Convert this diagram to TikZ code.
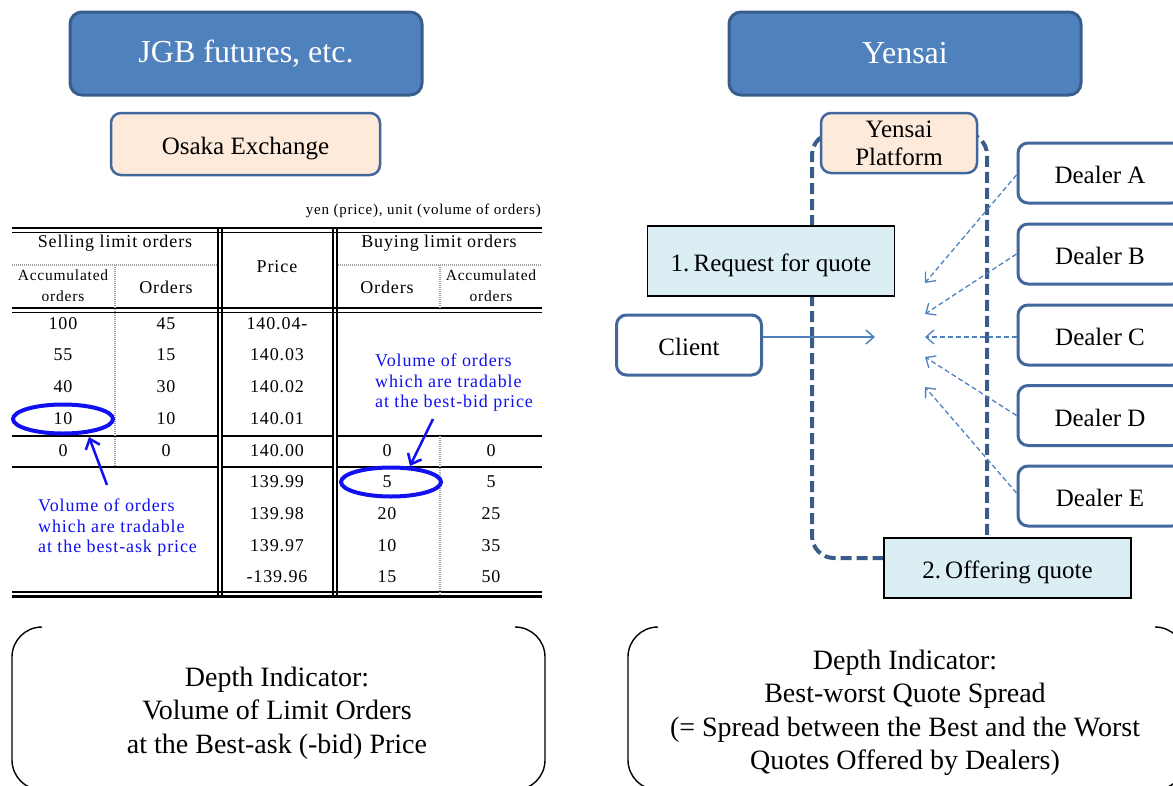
\documentclass[tikz,border=0pt]{standalone}
\usepackage{fontspec}
\setmainfont{Liberation Serif}
\newfontfamily\tabfont[LetterSpace=5]{Liberation Serif}
\usetikzlibrary{arrows.meta,calc,shapes.geometric}
\definecolor{titlefill}{HTML}{4F81BD}
\definecolor{titleline}{HTML}{385D8A}
\definecolor{peach}{HTML}{FDEADA}
\definecolor{boxline}{HTML}{41679C}
\definecolor{quotefill}{HTML}{DBEEF4}
\definecolor{conn}{HTML}{4F81BD}
\definecolor{annot}{HTML}{1010F0}
\tikzset{
  titlebox/.style={draw=titleline, fill=titlefill, line width=3pt, rounded corners=12pt, text=white,
    font=\fontsize{32}{36}\selectfont, inner sep=0pt, minimum width=352pt, minimum height=83pt},
  marketbox/.style={draw=boxline, fill=peach, line width=2.5pt, rounded corners=10pt,
    font=\fontsize{25}{28}\selectfont, inner sep=0pt, align=center},
  partybox/.style={draw=boxline, fill=white, line width=3pt, rounded corners=10pt,
    font=\fontsize{25}{28}\selectfont, inner sep=0pt, minimum height=60pt,
    text height=21pt, text depth=0pt},
  stagebox/.style={draw=black, fill=quotefill, line width=1.2pt,
    font=\fontsize{25}{28}\selectfont, inner sep=0pt, minimum width=247pt,
    text height=21pt, text depth=0pt},
  quotearrow/.style={draw=conn, line width=1.3pt, dash pattern=on 5pt off 3pt,
    -{Straight Barb[length=8pt,width=14pt]}},
  requestarrow/.style={draw=conn, line width=1.5pt, -{Straight Barb[length=8pt,width=14pt]}},
  platformpath/.style={draw=titleline, line width=4pt, dash pattern=on 11pt off 5pt, rounded corners=22pt},
  tabtext/.style={font=\tabfont\fontsize{18}{20}\selectfont, inner sep=0pt},
  tabhead/.style={font=\tabfont\fontsize{18}{20}\selectfont, inner sep=0pt},
  tabsmall/.style={font=\tabfont\fontsize{15.5}{21}\selectfont, inner sep=0pt, align=center},
  rulethick/.style={line width=2.5pt},
  rulethin/.style={line width=1.2pt},
  ruledot/.style={draw=gray!75, line width=2pt, dash pattern=on 1pt off 1pt},
  annotring/.style={ellipse, draw=annot, line width=4pt, inner sep=0pt, minimum width=100pt, minimum height=29pt},
  annotarrow/.style={draw=annot, line width=2.5pt, -{Straight Barb[length=9pt,width=15pt]}},
  annottext/.style={text=annot, font=\tabfont\fontsize{18}{20.5}\selectfont, inner sep=0pt, align=left},
  bracketline/.style={draw=black, line width=1.4pt, rounded corners=30pt},
  indicator/.style={font=\fontsize{28}{33.5}\selectfont, inner sep=0pt, align=center}
}
\begin{document}
\begin{tikzpicture}[x=1pt,y=-1pt]
\clip (0,0) rectangle (1173,785);

% ---------------- left half ----------------
\node[titlebox] (jgb) at (246,53.5) {JGB futures, etc.};
\node[marketbox, minimum width=269pt, minimum height=62pt, text height=21pt, text depth=0pt] (osaka) at (245.5,144) {Osaka Exchange};
\node[font=\tabfont\fontsize{15}{18}\selectfont, inner sep=0pt, anchor=east] (unit) at (541,211) {yen (price), unit (volume of orders)};

% table rules
\draw[rulethick] (12,228) -- (542,228);
\draw[rulethin] (12,232.5) -- (542,232.5);
\draw[ruledot] (12,265) -- (218,265);
\draw[ruledot] (336,265) -- (542,265);
\draw[rulethick] (12,308) -- (542,308);
\draw[rulethin] (12,312.5) -- (542,312.5);
\foreach \yy in {436,467}{
  \draw[line width=2pt] (12,\yy) -- (218,\yy);
  \draw[line width=2pt] (221,\yy) -- (333,\yy);
  \draw[line width=2pt] (336,\yy) -- (542,\yy);
}
\draw[rulethin] (12,592) -- (542,592);
\draw[rulethick] (12,596.5) -- (542,596.5);
\foreach \xx in {217.5,221.5,333,337}{
  \draw[line width=2pt] (\xx,228) -- (\xx,597);
}
\draw[ruledot] (115,265) -- (115,467);
\draw[ruledot] (440,265) -- (440,308);
\draw[ruledot] (440,436) -- (440,596);

% table header
\node[tabhead] (hsell) at (115,243) {Selling limit orders};
\node[tabhead] (hbuy) at (439,243) {Buying limit orders};
\node[tabhead] (hprice) at (277,267) {Price};
\node[tabsmall] (hsacc) at (63,286) {Accumulated\\orders};
\node[tabhead] (hsord) at (166,287) {Orders};
\node[tabhead] (hbord) at (387,287) {Orders};
\node[tabsmall] (hbacc) at (491,286) {Accumulated\\orders};

% table body
\foreach \yy/\pp [count=\i] in {324/140.04-,355/140.03,387/140.02,419/140.01,451/140.00,482/139.99,514/139.98,546/139.97,577/-139.96}{
  \node[tabtext] (pr\i) at (277,\yy) {\pp};
}
\foreach \yy/\aa/\oo [count=\i] in {324/100/45,355/55/15,387/40/30,419/10/10,451/0/0}{
  \node[tabtext] (sacc\i) at (63,\yy) {\aa};
  \node[tabtext] (sord\i) at (166,\yy) {\oo};
}
\foreach \yy/\oo/\aa [count=\i] in {451/0/0,482/5/5,514/20/25,546/10/35,577/15/50}{
  \node[tabtext] (bord\i) at (387,\yy) {\oo};
  \node[tabtext] (bacc\i) at (491,\yy) {\aa};
}

% annotations
\node[annotring] (ringask) at (63,419) {};
\node[annotring] (ringbid) at (391,482) {};
\coordinate (askTail) at (107,485);
\coordinate (askHead) at (89,437);
\coordinate (bidTail) at (433,419);
\coordinate (bidHead) at (410,466);
\draw[annotarrow] (askTail) -- (askHead);
\draw[annotarrow] (bidTail) -- (bidHead);
\node[annottext, anchor=north west] (asktext) at (38,499) {Volume of orders\\which are tradable\\at the best-ask price};
\node[annottext, anchor=north west] (bidtext) at (375,354) {Volume of orders\\which are tradable\\at the best-bid price};

% ---------------- right half ----------------
\draw[platformpath] (812,360) -- (812,133) -- (987,133) -- (987,558) -- (812,558) -- cycle;
\node[titlebox] (yensai) at (905,53.5) {Yensai};
\node[marketbox, minimum width=156pt, minimum height=60pt] (platform) at (899,143) {Yensai\\[0pt]Platform};
\node[stagebox, minimum height=70pt] (request) at (771,261) {1.\,Request for quote};
\node[stagebox, minimum height=60pt] (offer) at (1007.5,568) {2.\,Offering quote};
\node[partybox, minimum width=145pt] (client) at (689,345) {Client};
\foreach \nm/\yy in {A/173,B/254,C/335,D/415.5,E/496}{
  \node[partybox, minimum width=164pt] (dealer\nm) at (1100,\yy) {Dealer \nm};
}
\coordinate (reqTip) at (875,337);
\coordinate (tipA) at (925,283);
\coordinate (tipB) at (925,314);
\coordinate (tipC) at (925,337);
\coordinate (tipD) at (925,357);
\coordinate (tipE) at (925,387);
\draw[requestarrow] (client.east |- reqTip) -- (reqTip);
\draw[quotearrow] ($(dealerA.west)+(0,2)$) -- (tipA);
\draw[quotearrow] (dealerB.west) -- (tipB);
\draw[quotearrow] (dealerC.west |- tipC) -- (tipC);
\draw[quotearrow] (dealerD.west) -- (tipD);
\draw[quotearrow] ($(dealerE.west)+(0,-3)$) -- (tipE);

% ---------------- bottom indicators ----------------
\draw[bracketline] (42,627) -- (12,627) -- (12,790) -- (42,790);
\draw[bracketline] (515,627) -- (545,627) -- (545,790) -- (515,790);
\draw[bracketline] (658,627) -- (628,627) -- (628,790) -- (658,790);
\draw[bracketline] (1155,627) -- (1185,627) -- (1185,790) -- (1155,790);
\node[indicator] (leftind) at (277,713) {Depth Indicator:\\Volume of Limit Orders\\at the Best-ask (-bid) Price};
\node[indicator] (rightind) at (905,713) {Depth Indicator:\\Best-worst Quote Spread\\(= Spread between the Best and the Worst\\Quotes Offered by Dealers)};
\end{tikzpicture}
\end{document}
